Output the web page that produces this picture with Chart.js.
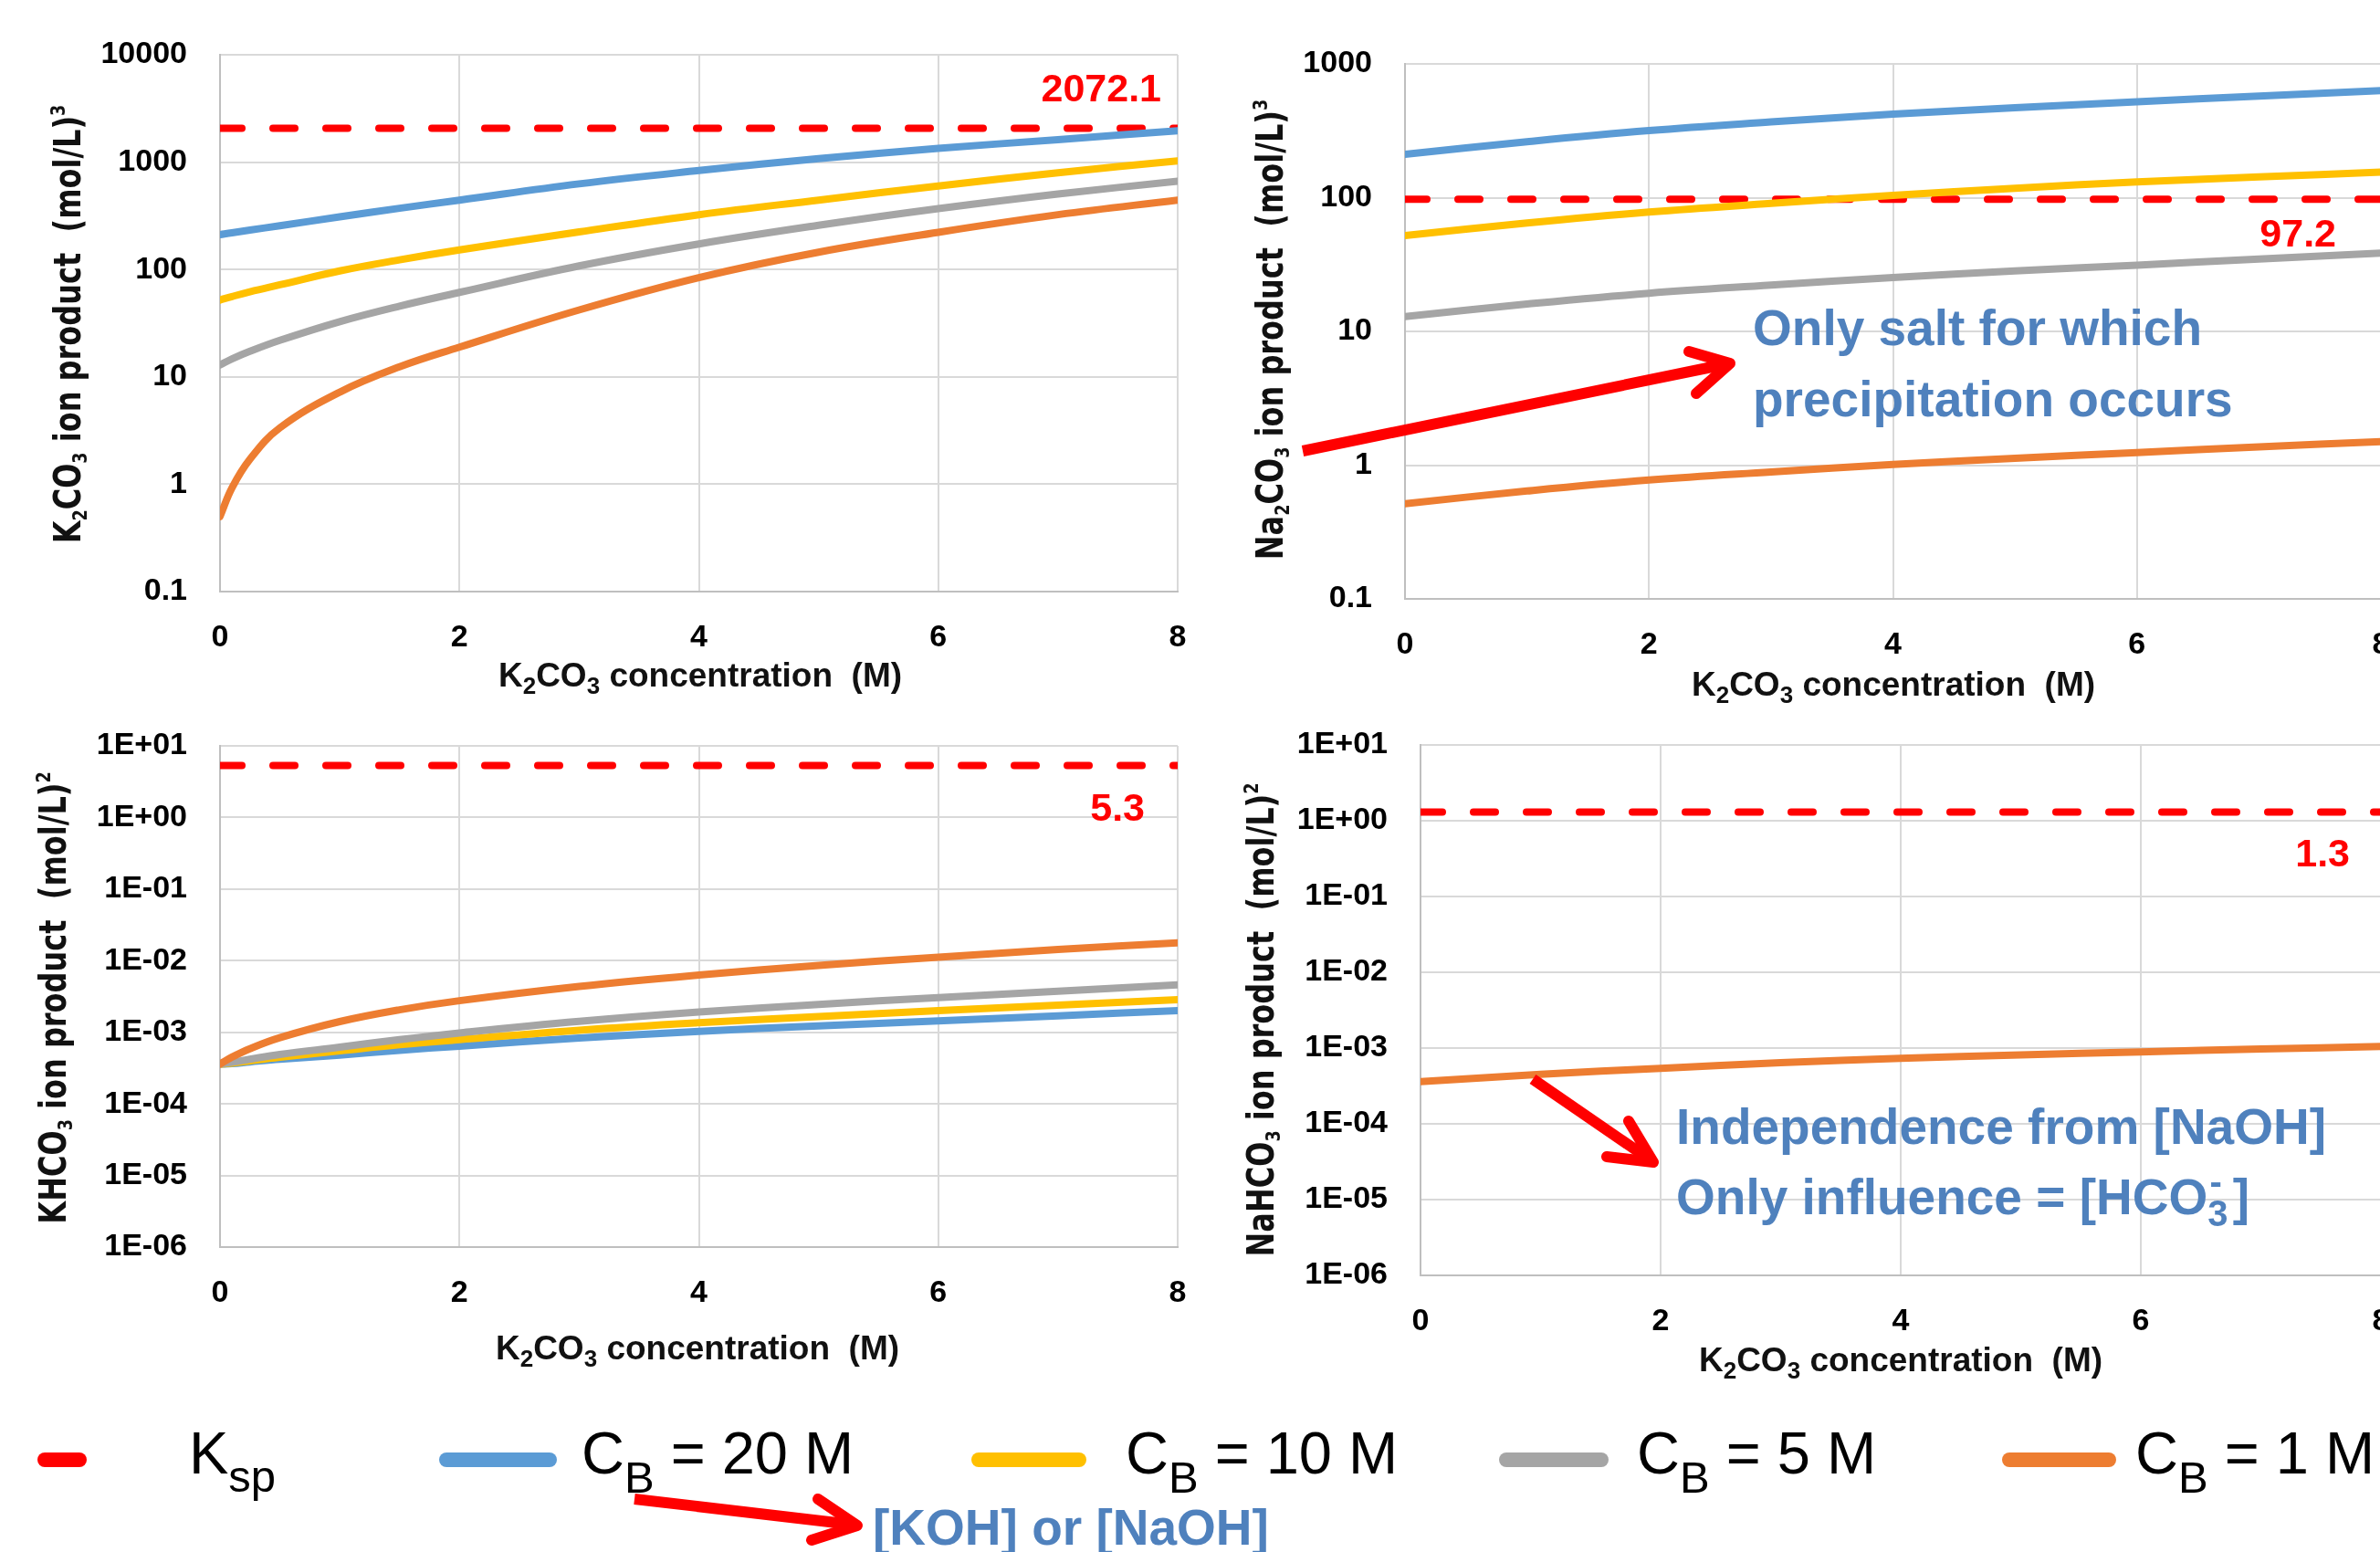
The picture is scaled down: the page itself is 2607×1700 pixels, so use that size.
<!DOCTYPE html>
<html>
<head>
<meta charset="utf-8">
<script src="https://cdn.jsdelivr.net/npm/chart.js@4.4.1/dist/chart.umd.min.js"></script>
<style>
  html, body { margin: 0; padding: 0; background: #fff; width: 2607px; height: 1700px; overflow: hidden; position: relative; }
  canvas { position: absolute; }
  svg { position: absolute; left: 0; top: 0; }
  svg text { white-space: pre; }
  .yt { font-family: "DejaVu Sans", sans-serif; font-weight: bold; font-size: 40px; fill: #111; }
  .xt { font-family: "Liberation Sans", Arial, sans-serif; font-weight: bold; font-size: 37px; fill: #111; }
  .lg { font-family: "Liberation Sans", Arial, sans-serif; font-size: 65px; fill: #000; }
  .an { font-family: "Liberation Sans", Arial, sans-serif; font-weight: bold; font-size: 55px; fill: #4f81bd; }
</style>
</head>
<body>
<canvas id="p1" width="1274" height="692" style="left:41px;top:36px"></canvas>
<canvas id="p2" width="1294" height="690" style="left:1339px;top:46px"></canvas>
<canvas id="p3" width="1274" height="653" style="left:41px;top:793px"></canvas>
<canvas id="p4" width="1277" height="685" style="left:1356px;top:792px"></canvas>

<svg width="2607" height="1700" viewBox="0 0 2607 1700">
  <!-- y axis titles -->
  <text class="yt" transform="translate(88,355) rotate(-90) scale(0.8,1)" text-anchor="middle">K<tspan dy="7" font-size="22">2</tspan><tspan dy="-7">CO</tspan><tspan dy="7" font-size="22">3</tspan><tspan dy="-7"> ion product  (mol/L)</tspan><tspan dy="-17" font-size="22">3</tspan></text>
  <text class="yt" transform="translate(1405,361) rotate(-90) scale(0.8,1)" text-anchor="middle">Na<tspan dy="7" font-size="22">2</tspan><tspan dy="-7">CO</tspan><tspan dy="7" font-size="22">3</tspan><tspan dy="-7"> ion product  (mol/L)</tspan><tspan dy="-17" font-size="22">3</tspan></text>
  <text class="yt" transform="translate(72,1093) rotate(-90) scale(0.8,1)" text-anchor="middle">KHCO<tspan dy="7" font-size="22">3</tspan><tspan dy="-7"> ion product  (mol/L)</tspan><tspan dy="-17" font-size="22">2</tspan></text>
  <text class="yt" transform="translate(1395,1117) rotate(-90) scale(0.8,1)" text-anchor="middle">NaHCO<tspan dy="7" font-size="22">3</tspan><tspan dy="-7"> ion product  (mol/L)</tspan><tspan dy="-17" font-size="22">2</tspan></text>

  <!-- x axis titles -->
  <text class="xt" x="767" y="752" text-anchor="middle">K<tspan dy="8" font-size="26">2</tspan><tspan dy="-8">CO</tspan><tspan dy="8" font-size="26">3</tspan><tspan dy="-8"> concentration  (M)</tspan></text>
  <text class="xt" x="2074" y="762" text-anchor="middle">K<tspan dy="8" font-size="26">2</tspan><tspan dy="-8">CO</tspan><tspan dy="8" font-size="26">3</tspan><tspan dy="-8"> concentration  (M)</tspan></text>
  <text class="xt" x="764" y="1489" text-anchor="middle">K<tspan dy="8" font-size="26">2</tspan><tspan dy="-8">CO</tspan><tspan dy="8" font-size="26">3</tspan><tspan dy="-8"> concentration  (M)</tspan></text>
  <text class="xt" x="2082" y="1502" text-anchor="middle">K<tspan dy="8" font-size="26">2</tspan><tspan dy="-8">CO</tspan><tspan dy="8" font-size="26">3</tspan><tspan dy="-8"> concentration  (M)</tspan></text>

  <!-- legend -->
  <g stroke-width="16" stroke-linecap="round">
    <line x1="49" y1="1599" x2="87" y2="1599" stroke="#ff0000"/>
    <line x1="489" y1="1599" x2="602" y2="1599" stroke="#5b9bd5"/>
    <line x1="1072" y1="1599" x2="1182" y2="1599" stroke="#ffc000"/>
    <line x1="1650" y1="1599" x2="1754" y2="1599" stroke="#a5a5a5"/>
    <line x1="2201" y1="1599" x2="2310" y2="1599" stroke="#ed7d31"/>
  </g>
  <text class="lg" x="207" y="1614">K<tspan dy="20" font-size="49">sp</tspan></text>
  <text class="lg" x="637" y="1614">C<tspan dy="21" font-size="49">B</tspan><tspan dy="-21"> = 20 M</tspan></text>
  <text class="lg" x="1233" y="1614">C<tspan dy="21" font-size="49">B</tspan><tspan dy="-21"> = 10 M</tspan></text>
  <text class="lg" x="1793" y="1614">C<tspan dy="21" font-size="49">B</tspan><tspan dy="-21"> = 5 M</tspan></text>
  <text class="lg" x="2339" y="1614">C<tspan dy="21" font-size="49">B</tspan><tspan dy="-21"> = 1 M</tspan></text>

  <!-- annotations -->
  <text class="an" x="1920" y="378">Only salt for which</text>
  <text class="an" x="1920" y="456">precipitation occurs</text>
  <text class="an" x="1836" y="1253">Independence from [NaOH]</text>
  <text class="an" x="1836" y="1330">Only influence = [HCO<tspan dy="13" font-size="40">3</tspan><tspan dx="-20" dy="-35" font-size="40">-</tspan><tspan dx="12" dy="22">]</tspan></text>
  <text class="an" x="956" y="1692" font-size="56">[KOH] or [NaOH]</text>

  <!-- arrows -->
  <g stroke="#ff0000" stroke-width="12" fill="none">
    <line x1="1427" y1="494" x2="1890" y2="399" stroke-linecap="butt"/>
    <polyline points="1850,385 1895,398 1858,431" stroke-linecap="round" stroke-linejoin="round"/>
    <line x1="1679" y1="1182" x2="1807" y2="1270" stroke-linecap="butt"/>
    <polyline points="1784,1228 1811,1273 1760,1267" stroke-linecap="round" stroke-linejoin="round"/>
    <line x1="695" y1="1642" x2="934" y2="1670" stroke-linecap="butt"/>
    <polyline points="896,1642 939,1671 889,1687" stroke-linecap="round" stroke-linejoin="round"/>
  </g>
</svg>

<script>
// K2CO3 concentration (M)
const concFine = [0, 0.1, 0.25, 0.5, 1, 1.5, 2, 3, 4, 5, 6, 7, 8];
const concCoarse = [0, 1, 2, 3, 4, 5, 6, 7, 8];

const seriesNames = ['C_B = 20 M', 'C_B = 10 M', 'C_B = 5 M', 'C_B = 1 M'];
const seriesColors = ['#5b9bd5', '#ffc000', '#a5a5a5', '#ed7d31'];

// K2CO3 ion product (mol/L)^3, on concFine
const k2co3_20 = [211, 220, 233, 256, 309, 372, 443, 628, 835, 1079, 1342, 1622, 1960];
const k2co3_10 = [52, 56, 62, 72, 97, 123, 152, 224, 324, 443, 600, 797, 1028];
const k2co3_5 = [12.9, 14.7, 17.3, 21.9, 32.7, 45.6, 61.2, 108, 173, 258, 369, 505, 664];
const k2co3_1 = [0.5, 0.925, 1.71, 3.35, 7.2, 12.4, 18.9, 42, 84, 145, 222, 324, 443];

// Na2CO3 ion product (mol/L)^3, on concCoarse
const na2co3_20 = [211, 262, 317, 368, 421, 470, 521, 574, 631];
const na2co3_10 = [52, 64.6, 78, 90.6, 104, 117.5, 131, 143, 155];
const na2co3_5 = [12.9, 16.0, 19.3, 22.2, 25.3, 28.3, 31.3, 34.8, 38.5];
const na2co3_1 = [0.515, 0.641, 0.774, 0.89, 1.01, 1.127, 1.24, 1.37, 1.5];

// KHCO3 ion product (mol/L)^2, on concFine
const khco3_20 = [3.6e-4, 3.65e-4, 3.85e-4, 4.2e-4, 4.8e-4, 5.6e-4, 6.4e-4, 8.3e-4, 1.03e-3, 1.23e-3, 1.44e-3, 1.7e-3, 2.0e-3];
const khco3_10 = [3.6e-4, 3.7e-4, 4.0e-4, 4.5e-4, 5.5e-4, 6.7e-4, 7.9e-4, 1.07e-3, 1.36e-3, 1.66e-3, 2.0e-3, 2.4e-3, 2.85e-3];
const khco3_5 = [3.6e-4, 3.8e-4, 4.2e-4, 4.9e-4, 6.2e-4, 7.9e-4, 9.8e-4, 1.42e-3, 1.92e-3, 2.45e-3, 3.05e-3, 3.75e-3, 4.6e-3];
const khco3_1 = [3.6e-4, 4.5e-4, 5.9e-4, 8.4e-4, 1.41e-3, 2.06e-3, 2.76e-3, 4.37e-3, 6.31e-3, 8.6e-3, 1.12e-2, 1.43e-2, 1.78e-2];

// NaHCO3 ion product (mol/L)^2, on concCoarse (same for every C_B)
const nahco3_1 = [3.6e-4, 4.5e-4, 5.4e-4, 6.4e-4, 7.3e-4, 8.1e-4, 8.9e-4, 9.7e-4, 1.05e-3];

// solubility products
const kspValues = [2072.1, 97.2, 5.3, 1.3];
const kspLabels = ['2072.1', '97.2', '5.3', '1.3'];

// axis ticks
const xTicks = [0, 2, 4, 6, 8];
const yTicks1 = [0.1, 1, 10, 100, 1000, 10000];
const yLabels1 = ['0.1', '1', '10', '100', '1000', '10000'];
const yTicks2 = [0.1, 1, 10, 100, 1000];
const yLabels2 = ['0.1', '1', '10', '100', '1000'];
const yTicksBic = [1e-6, 1e-5, 1e-4, 1e-3, 1e-2, 1e-1, 1, 10];
const yLabelsBic = ['1E-06', '1E-05', '1E-04', '1E-03', '1E-02', '1E-01', '1E+00', '1E+01'];

const tickFont = { family: '"Liberation Sans", Arial, sans-serif', weight: 'bold', size: 34 };

// red Ksp value next to the dashed line
const kspLabelPlugin = {
    id: 'kspLabel',
    afterDatasetsDraw(chart, args, opts) {
        const { ctx, chartArea, scales } = chart;
        const y = scales.y.getPixelForValue(opts.value);
        ctx.save();
        ctx.font = 'bold 43px "Liberation Sans", Arial, sans-serif';
        ctx.fillStyle = '#ff0000';
        ctx.textAlign = 'right';
        ctx.textBaseline = 'alphabetic';
        ctx.fillText(opts.text, chartArea.right - opts.inset, y + opts.dy);
        ctx.restore();
    }
};

// fixed axis sizes, so the plot area sits where the canvas says
function fixBox(s, w, h) {
    if (w) s.width = w;
    if (h) s.height = h;
    s.paddingTop = 0;
    s.paddingBottom = 0;
    s.paddingLeft = 0;
    s.paddingRight = 0;
}

function makeChart(id, conc, series, k, yTicks, yLabels, inset, dy) {
    let datasets = [{
        label: 'Ksp',
        data: [{ x: conc[0], y: kspValues[k] }, { x: conc[conc.length - 1], y: kspValues[k] }],
        borderColor: '#ff0000',
        borderWidth: 8,
        borderDash: [24, 34],
        borderCapStyle: 'round',
        pointRadius: 0,
        order: 10
    }];

    series.forEach((vals, i) => {
        if (!vals) return;
        datasets.push({
            label: seriesNames[i],
            data: conc.map((x, j) => ({ x: x, y: vals[j] })),
            borderColor: seriesColors[i],
            borderWidth: 8,
            borderCapStyle: 'round',
            pointRadius: 0,
            tension: 0.4,
            order: 4 - i
        });
    });

    let grid = { color: '#d9d9d9', lineWidth: 2, drawTicks: false };
    let border = { color: '#bfbfbf', width: 2 };

    return new Chart(document.getElementById(id), {
        type: 'line',
        data: { datasets: datasets },
        options: {
            responsive: false,
            animation: false,
            events: [],
            layout: { padding: { top: 24, right: 25, left: 0, bottom: 0 } },
            plugins: {
                legend: { display: false },
                tooltip: { enabled: false },
                kspLabel: { value: kspValues[k], text: kspLabels[k], inset: inset, dy: dy }
            },
            scales: {
                x: {
                    type: 'linear',
                    min: 0,
                    max: 8,
                    afterBuildTicks: s => { s.ticks = xTicks.map(v => ({ value: v })); },
                    afterFit: s => fixBox(s, 0, 80),
                    grid: grid,
                    border: border,
                    ticks: { padding: 30, font: tickFont, color: '#000', maxRotation: 0, autoSkip: false }
                },
                y: {
                    type: 'logarithmic',
                    min: yTicks[0],
                    max: yTicks[yTicks.length - 1],
                    afterBuildTicks: s => { s.ticks = yTicks.map(v => ({ value: v })); },
                    afterFit: s => fixBox(s, 200, 0),
                    grid: grid,
                    border: border,
                    ticks: { padding: 36, font: tickFont, color: '#000', autoSkip: false, callback: (v, i) => yLabels[i] }
                }
            }
        },
        plugins: [kspLabelPlugin]
    });
}

makeChart('p1', concFine, [k2co3_20, k2co3_10, k2co3_5, k2co3_1], 0, yTicks1, yLabels1, 18, -29);
makeChart('p2', concCoarse, [na2co3_20, na2co3_10, na2co3_5, na2co3_1], 1, yTicks2, yLabels2, 49, 52);
makeChart('p3', concFine, [khco3_20, khco3_10, khco3_5, khco3_1], 2, yTicksBic, yLabelsBic, 36, 60);
makeChart('p4', concCoarse, [null, null, null, nahco3_1], 3, yTicksBic, yLabelsBic, 34, 59);
</script>
</body>
</html>
